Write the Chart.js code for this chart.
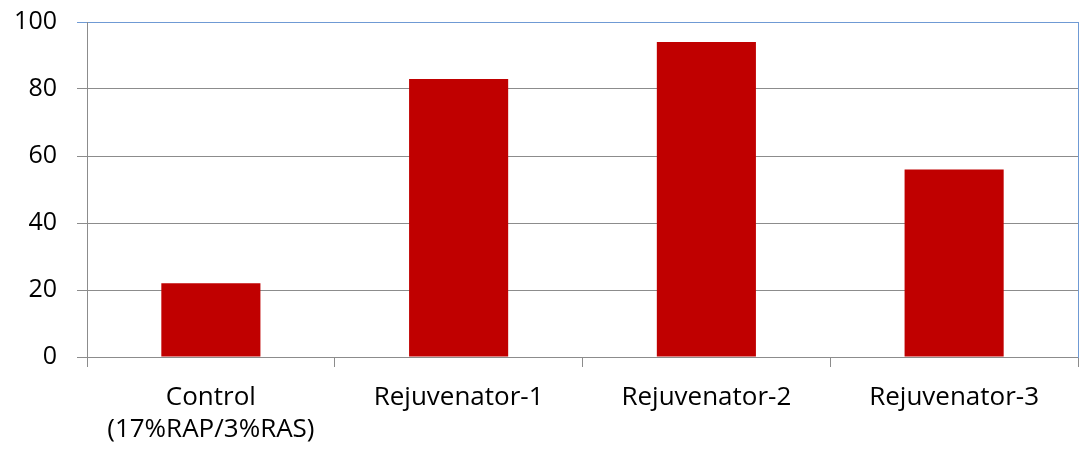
<!DOCTYPE html>
<html>
<head>
<meta charset="utf-8">
<script src="https://cdn.jsdelivr.net/npm/chart.js@4/dist/chart.umd.min.js"></script>
<style>
  html, body { margin: 0; padding: 0; background: #fff; }
  #wrap { width: 1080px; height: 449px; }
</style>
</head>
<body>
<div id="wrap"><canvas id="chart" width="1080" height="449"></canvas></div>
<script>
// chart data
const categories = [['Control', '(17%RAP/3%RAS)'], 'Rejuvenator-1', 'Rejuvenator-2', 'Rejuvenator-3'];
const values = [22, 83, 94, 56];
const yTicks = [0, 20, 40, 60, 80, 100];

const gridGray = '#8c8c8c';
const borderBlue = '#6f9ad4';

new Chart(document.getElementById('chart').getContext('2d'), {
    type: 'bar',
    data: {
        labels: categories,
        datasets: [{
            data: values,
            backgroundColor: '#c00000',
            barPercentage: 0.4,
            categoryPercentage: 1.0
        }]
    },
    options: {
        responsive: false,
        animation: false,
        layout: { padding: { top: 22, right: 2, left: 0, bottom: 0 } },
        plugins: { legend: { display: false }, tooltip: { enabled: false } },
        scales: {
            x: {
                grid: {
                    offset: true,
                    drawOnChartArea: false,
                    drawTicks: true,
                    tickLength: 10,
                    color: gridGray
                },
                border: { color: gridGray },
                ticks: {
                    color: '#000',
                    font: { family: 'Open Sans', size: 26, lineHeight: 1.25 },
                    padding: 14,
                    maxRotation: 0
                },
                afterFit: s => { s.height = 92; s.paddingLeft = 0; s.paddingRight = 0; }
            },
            y: {
                min: 0,
                max: 100,
                afterBuildTicks: s => { s.ticks = yTicks.map(v => ({ value: v })); },
                grid: {
                    color: ctx => (ctx.tick && ctx.tick.value === 100 ? borderBlue : gridGray),
                    tickLength: 10
                },
                border: { color: gridGray },
                ticks: {
                    color: '#000',
                    font: { family: 'Open Sans', size: 25 },
                    padding: 20
                },
                afterFit: s => { s.width = 87; s.paddingTop = 0; s.paddingBottom = 0; }
            },
            yRight: {
                position: 'right',
                min: 0,
                max: 100,
                grid: { display: false },
                ticks: { display: false },
                border: { color: borderBlue },
                afterFit: s => { s.width = 0; s.paddingTop = 0; s.paddingBottom = 0; }
            }
        }
    }
});
</script>
</body>
</html>
